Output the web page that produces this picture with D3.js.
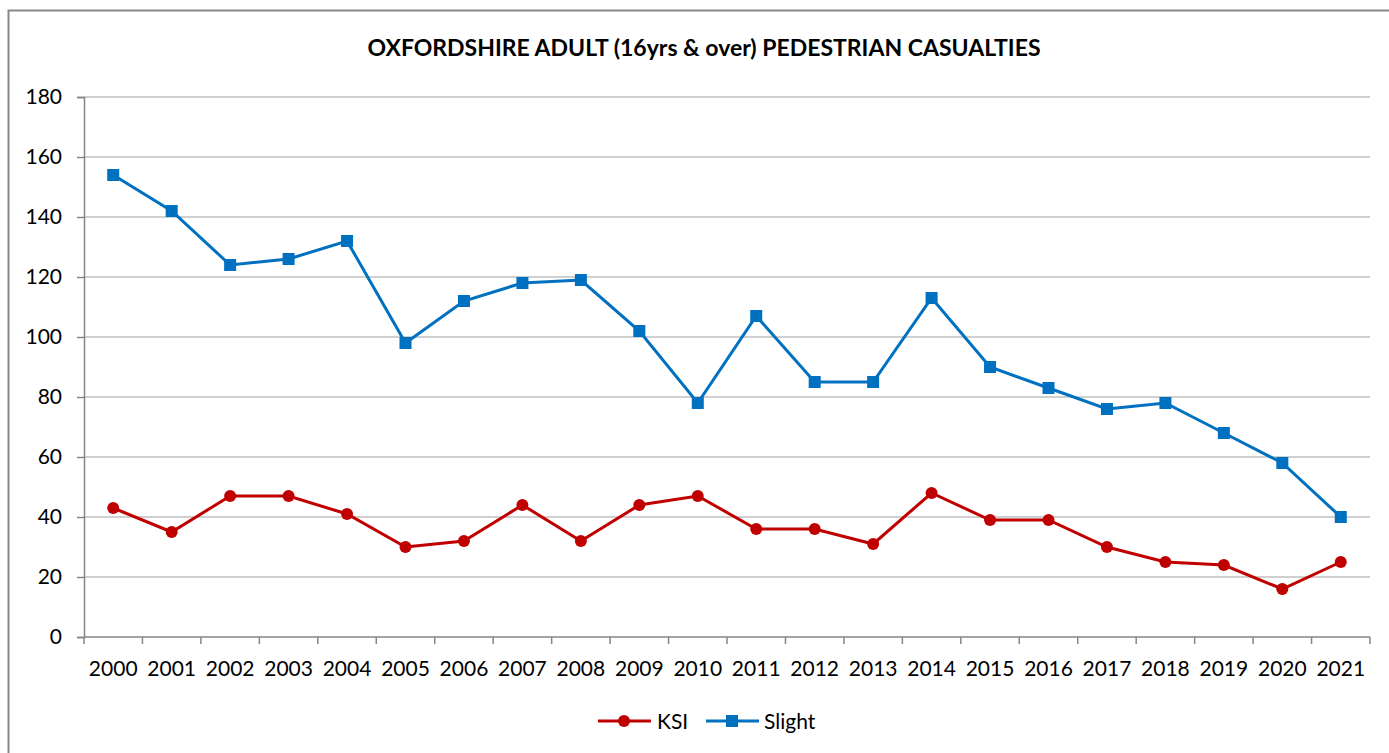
<!DOCTYPE html>
<html><head><meta charset="utf-8">
<script src="https://cdn.jsdelivr.net/npm/d3@7"></script>
<style>body{margin:0;background:#fff;} svg{display:block;font-family:Lato,"Liberation Sans",sans-serif;}</style>
</head><body>
<script>
const years = ["2000","2001","2002","2003","2004","2005","2006","2007","2008","2009","2010","2011","2012","2013","2014","2015","2016","2017","2018","2019","2020","2021"];
const ksi = [43,35,47,47,41,30,32,44,32,44,47,36,36,31,48,39,39,30,25,24,16,25];
const slight = [154,142,124,126,132,98,112,118,119,102,78,107,85,85,113,90,83,76,78,68,58,40];
const yTicks = [0,20,40,60,80,100,120,140,160,180];
const title = "OXFORDSHIRE ADULT (16yrs & over) PEDESTRIAN CASUALTIES";

(function(){
const W = 1389, H = 753;
const svg = d3.select("body").append("svg").attr("width", W).attr("height", H);
svg.append("rect").attr("x",8.5).attr("y",10.5).attr("width",W+20).attr("height",H+20)
  .attr("fill","none").attr("stroke","#878787").attr("stroke-width",2);

const pLeft = 84, pRight = 1370, pTop = 97, pBottom = 637;
const x = d3.scaleBand().domain(years).range([pLeft, pRight]);
const y = d3.scaleLinear().domain([0,180]).range([pBottom, pTop]);

svg.append("text").attr("x",704).attr("y",56).attr("text-anchor","middle")
  .attr("font-weight","bold").attr("font-size",23).attr("fill","#000").text(title);

svg.append("g").selectAll("line").data(yTicks.filter(d=>d>0)).join("line")
  .attr("x1",pLeft).attr("x2",pRight).attr("y1",d=>y(d)).attr("y2",d=>y(d))
  .attr("stroke","#c0c0c0").attr("stroke-width",1.5);

const ya = svg.append("g").attr("transform",`translate(${pLeft},0)`)
  .call(d3.axisLeft(y).tickValues(yTicks).tickSize(7).tickPadding(15));
ya.select(".domain").attr("stroke","#868686").attr("stroke-width",1.5);
ya.selectAll(".tick line").attr("stroke","#868686").attr("stroke-width",1.5);
ya.selectAll("text").attr("font-size",21).attr("fill","#000").attr("font-family","Lato,sans-serif");

const xa = svg.append("g").attr("transform",`translate(0,${pBottom})`)
  .call(d3.axisBottom(x).tickSize(0).tickPadding(24));
xa.select(".domain").remove();
xa.selectAll("text").attr("font-size",21).attr("fill","#000").attr("font-family","Lato,sans-serif");
svg.append("line").attr("x1",pLeft).attr("x2",pRight).attr("y1",pBottom).attr("y2",pBottom)
  .attr("stroke","#868686").attr("stroke-width",1.5);
const bounds = years.map(d=>x(d)).concat([pRight]);
svg.append("g").selectAll("line").data(bounds).join("line")
  .attr("x1",d=>d).attr("x2",d=>d).attr("y1",pBottom).attr("y2",pBottom+7)
  .attr("stroke","#868686").attr("stroke-width",1.5);

const cx = d => x(d) + x.bandwidth()/2;
const line = d3.line().x((d,i)=>cx(years[i])).y(d=>y(d));

const red = "#C00000", blue = "#0070C0";
svg.append("path").datum(slight).attr("d",line).attr("fill","none").attr("stroke",blue).attr("stroke-width",3);
svg.append("g").selectAll("rect").data(slight).join("rect")
  .attr("x",(d,i)=>cx(years[i])-6).attr("y",d=>y(d)-6).attr("width",12).attr("height",12).attr("fill",blue);
svg.append("path").datum(ksi).attr("d",line).attr("fill","none").attr("stroke",red).attr("stroke-width",3);
svg.append("g").selectAll("circle").data(ksi).join("circle")
  .attr("cx",(d,i)=>cx(years[i])).attr("cy",d=>y(d)).attr("r",6).attr("fill",red);

const ly = 721;
const lg = svg.append("g");
lg.append("line").attr("x1",598).attr("x2",651).attr("y1",ly).attr("y2",ly).attr("stroke",red).attr("stroke-width",3);
lg.append("circle").attr("cx",624).attr("cy",ly).attr("r",6).attr("fill",red);
lg.append("text").attr("x",657).attr("y",ly+8).attr("font-size",21).text("KSI");
lg.append("line").attr("x1",706).attr("x2",759).attr("y1",ly).attr("y2",ly).attr("stroke",blue).attr("stroke-width",3);
lg.append("rect").attr("x",726).attr("y",ly-6).attr("width",12).attr("height",12).attr("fill",blue);
lg.append("text").attr("x",764).attr("y",ly+8).attr("font-size",21).text("Slight");
})();
</script>
</body></html>
